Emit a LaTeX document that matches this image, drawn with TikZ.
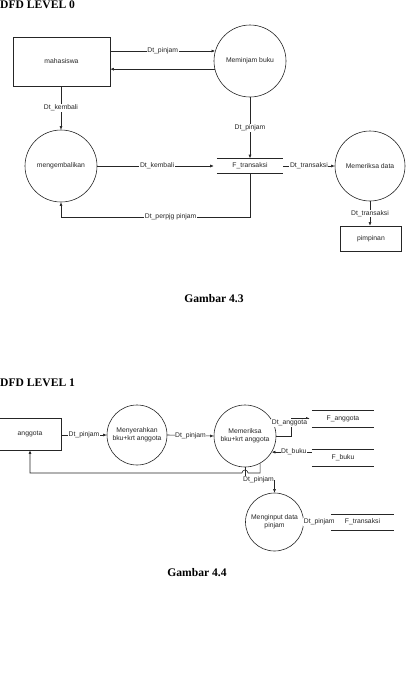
\documentclass[tikz,border=0pt]{standalone}
\usepackage{fontspec}
\setmainfont{Liberation Sans}
\newfontfamily\titlefont{Liberation Serif}
\usetikzlibrary{arrows.meta,calc}
\begin{document}
\begin{tikzpicture}[x=1pt,y=1pt,
  txt/.style={font=\fontsize{6.8}{8}\selectfont, text=black!85},
  proc/.style={txt, circle, draw=black!85, line width=0.6pt, minimum size=#1, inner sep=0pt, align=center},
  ent/.style={txt, rectangle, draw=black!85, line width=0.6pt, inner sep=0pt},
  store/.style={txt, rectangle, inner sep=0pt},
  lbl/.style={txt, fill=white, inner sep=0.6pt},
  ln/.style={draw=black!85, line width=0.6pt},
  arr/.style={ln, -{Latex[length=3.6pt,width=3pt]}},
  ttl/.style={font=\titlefont\bfseries\fontsize{11.6}{13}\selectfont, inner sep=0pt}
]
\useasboundingbox (0,0) rectangle (406,-673);
\fill[white] (0,0) rectangle (406,-673);

% ---------------- DFD LEVEL 0 ----------------
\node[ttl, anchor=base west] (t0) at (0,-8.6) {DFD LEVEL 0};

\node[ent, minimum width=97pt, minimum height=49pt] (mhs) at (61.5,-61.5) {mahasiswa};
\node[proc=72pt] (pinjam) at (250,-61) {Meminjam buku};
\node[proc=72pt] (kembali) at (61,-166) {mengembalikan};
\node[store, minimum width=66pt, minimum height=15pt] (ft) at (250,-166) {F\_transaksi};
\draw[ln] (ft.north west) -- (ft.north east) (ft.south west) -- (ft.south east);
\node[proc=70pt] (periksa) at (370,-166) {Memeriksa data};
\node[ent, minimum width=61pt, minimum height=25pt] (pimp) at (371,-238.5) {pimpinan};
\coordinate (c1) at (61,-217);

\draw[arr] (mhs.east |- pinjam.164) -- (pinjam.164) node[lbl, midway] {Dt\_pinjam};
\draw[arr] (pinjam.193) -- (mhs.east |- pinjam.193);
\draw[arr] (mhs.south -| kembali.north) -- (kembali.north) node[lbl, midway] {Dt\_kembali};
\draw[arr] (pinjam.south) -- (ft.north) node[lbl, midway] {Dt\_pinjam};
\draw[arr, shorten >=3pt] (kembali.east) -- (ft.west) node[lbl, midway] {Dt\_kembali};
\draw[arr] (ft.east) -- (periksa.west) node[lbl, midway] {Dt\_transaksi};
\draw[arr] (ft.south) |- (c1) node[lbl, pos=0.71] {Dt\_perpjg pinjam} -- (kembali.south);
\draw[arr] (periksa.south) -- (periksa.south |- pimp.north) node[lbl, midway] {Dt\_transaksi};

\node[ttl] (g3) at (214,-299) {Gambar 4.3};

% ---------------- DFD LEVEL 1 ----------------
\node[ttl, anchor=base west] (t1) at (0,-386.6) {DFD LEVEL 1};

\node[ent, minimum width=62pt, minimum height=32pt] (ang) at (30,-434) {anggota};
\node[proc=60pt] (serah) at (137,-435) {Menyerahkan\\bku+krt anggota};
\node[proc=62pt] (cek) at (245,-436) {Memeriksa\\bku+krt anggota};
\node[store, minimum width=62pt, minimum height=17pt] (fang) at (343,-418.5) {F\_anggota};
\draw[ln] (fang.north west) -- (fang.north east) (fang.south west) -- (fang.south east);
\node[store, minimum width=62pt, minimum height=17pt] (fbuku) at (343,-457.5) {F\_buku};
\draw[ln] (fbuku.north west) -- (fbuku.north east) (fbuku.south west) -- (fbuku.south east);
\node[proc=58pt] (input) at (274.5,-522) {Menginput data\\pinjam};
\node[store, minimum width=63pt, minimum height=16pt] (ftr) at (362.5,-522) {F\_transaksi};
\draw[ln] (ftr.north west) -- (ftr.north east) (ftr.south west) -- (ftr.south east);

\coordinate (c2) at (30,-473);
\coordinate (c3) at (245,-480);

\draw[arr] (ang.east |- serah.west) -- (serah.west) node[lbl, midway] {Dt\_pinjam};
\draw[arr] (serah.east) -- (cek.west) node[lbl, midway] {Dt\_pinjam};
\draw[arr, shorten >=2pt] (cek.east) -- ++(15,0) |- (fang.west);
\node[lbl] (la) at (289.5,-423) {Dt\_anggota};
\draw[arr] (fbuku.west |- cek.-31) -- (cek.-31) node[lbl, pos=0.45] {Dt\_buku};
\draw[arr] (cek.-61) |- (248,-473) arc[start angle=0, end angle=180, radius=3pt] -- (c2) -- (ang.south);
\draw[arr] (cek.south) -- (c3) -| (input.north);
\node[lbl] (lp) at (258.5,-479.5) {Dt\_pinjam};
\draw[ln] (input.east) -- (ftr.west) node[lbl, midway, xshift=2pt] {Dt\_pinjam};

\node[ttl] (g4) at (197,-573) {Gambar 4.4};
\end{tikzpicture}
\end{document}
